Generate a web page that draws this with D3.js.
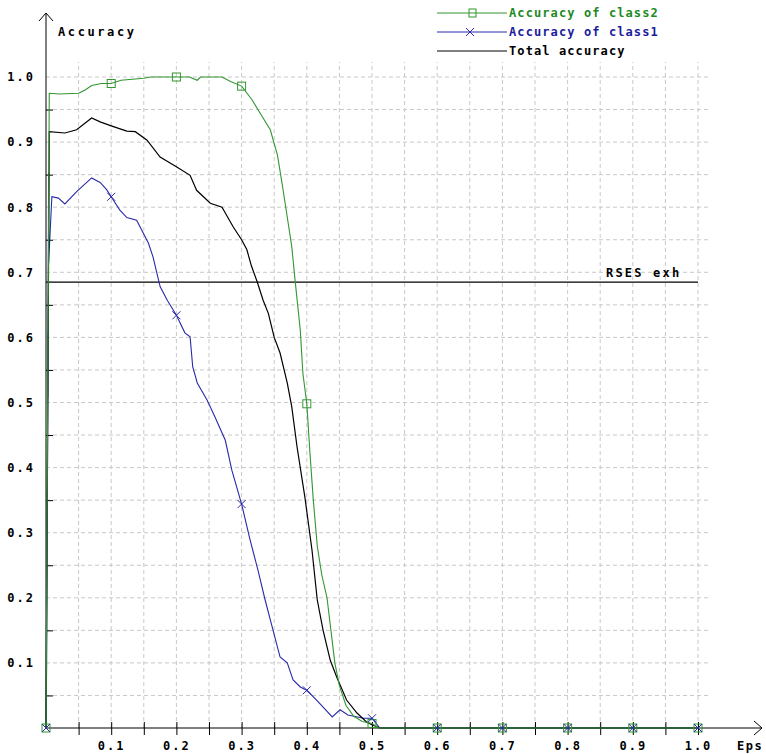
<!DOCTYPE html>
<html>
<head>
<meta charset="utf-8">
<script src="https://cdn.jsdelivr.net/npm/d3@7"></script>
<style>
  body { margin: 0; background: #fff; }
  text { font-family: "DejaVu Sans Mono", monospace; font-weight: bold; }
</style>
</head>
<body>
<div id="chart"></div>
<script>
// values
var class2Eps = [0, 0.005, 0.02, 0.05, 0.06, 0.07, 0.085, 0.1, 0.115, 0.15, 0.16, 0.2, 0.22, 0.232, 0.237, 0.27, 0.283, 0.3,
  0.316, 0.328, 0.344, 0.355, 0.362, 0.37, 0.377, 0.382, 0.39, 0.394, 0.4, 0.405, 0.41, 0.416, 0.423, 0.431, 0.437,
  0.443, 0.45, 0.46, 0.472, 0.485, 0.5, 0.51, 0.6, 0.7, 0.8, 0.9, 1.0];
var class2Acc = [0, 0.975, 0.974, 0.975, 0.98, 0.987, 0.99, 0.99, 0.995, 0.998, 1.0, 1.0, 1.0, 0.995, 1.0, 1.0, 0.993, 0.986,
  0.965, 0.945, 0.919, 0.88, 0.837, 0.785, 0.739, 0.688, 0.611, 0.545, 0.498, 0.42, 0.35, 0.28, 0.235, 0.2, 0.15,
  0.1, 0.065, 0.035, 0.018, 0.01, 0.007, 0, 0, 0, 0, 0, 0];

var class1Eps = [0, 0.001, 0.002, 0.002, 0.003, 0.003, 0.004, 0.004, 0.009, 0.019, 0.029, 0.047, 0.07, 0.083, 0.093, 0.1,
  0.113, 0.124, 0.139, 0.157, 0.164, 0.175, 0.186, 0.2, 0.213, 0.221, 0.225, 0.232, 0.247, 0.259, 0.275, 0.285, 0.3,
  0.313, 0.325, 0.336, 0.348, 0.359, 0.37, 0.379, 0.39, 0.4, 0.415, 0.439, 0.451, 0.463, 0.487, 0.5, 0.512,
  0.6, 0.7, 0.8, 0.9, 1.0];
var class1Acc = [0, 0.1, 0.366, 0.304, 0.608, 0.508, 0.853, 0.714, 0.816, 0.814, 0.805, 0.824, 0.845, 0.838, 0.827, 0.816,
  0.796, 0.784, 0.78, 0.745, 0.724, 0.678, 0.657, 0.634, 0.607, 0.601, 0.555, 0.53, 0.504, 0.478, 0.442, 0.396, 0.344,
  0.289, 0.243, 0.197, 0.151, 0.109, 0.1, 0.074, 0.063, 0.058, 0.043, 0.017, 0.028, 0.02, 0.015, 0.015, 0,
  0, 0, 0, 0, 0];

var totalEps = [0, 0.005, 0.029, 0.047, 0.07, 0.083, 0.1, 0.124, 0.137, 0.155, 0.175, 0.2, 0.221, 0.231, 0.252, 0.27, 0.287,
  0.3, 0.308, 0.315, 0.324, 0.333, 0.341, 0.35, 0.359, 0.37, 0.377, 0.385, 0.397, 0.408, 0.416, 0.425, 0.436, 0.446,
  0.461, 0.477, 0.492, 0.5, 0.512, 0.6, 0.7, 0.8, 0.9, 1.0];
var totalAcc = [0, 0.916, 0.914, 0.919, 0.937, 0.931, 0.925, 0.917, 0.916, 0.903, 0.877, 0.862, 0.849, 0.826, 0.806, 0.8, 0.77,
  0.75, 0.735, 0.71, 0.685, 0.657, 0.637, 0.6, 0.576, 0.53, 0.493, 0.432, 0.355, 0.273, 0.197, 0.15, 0.104, 0.078,
  0.043, 0.023, 0.009, 0.005, 0, 0, 0, 0, 0, 0];

var rsesExh = 0.685;
var tickValues = [0.05, 0.1, 0.15, 0.2, 0.25, 0.3, 0.35, 0.4, 0.45, 0.5, 0.55, 0.6, 0.65, 0.7, 0.75, 0.8, 0.85, 0.9, 0.95, 1.0];
var tickLabels = ['0.1', '0.2', '0.3', '0.4', '0.5', '0.6', '0.7', '0.8', '0.9', '1.0'];

var green = '#329632', blue = '#2a2aaa';

var svg = d3.select('#chart').append('svg').attr('width', 766).attr('height', 754);

var x = d3.scaleLinear().domain([0, 1]).range([46, 698]);
var y = d3.scaleLinear().domain([0, 1]).range([728, 77]);

function label(d) {
  var i = Math.round(d * 10) - 1;
  return Math.abs(d * 10 - Math.round(d * 10)) < 1e-6 ? tickLabels[i] : '';
}

// grid
var grid = svg.append('g').attr('stroke', '#c8c8c8').attr('stroke-dasharray', '4,3');
grid.selectAll('.gv').data(tickValues).enter().append('line')
  .attr('x1', function (d) { return x(d); }).attr('x2', function (d) { return x(d); })
  .attr('y1', y(0)).attr('y2', y(1.023));
grid.selectAll('.gh').data(tickValues).enter().append('line')
  .attr('y1', function (d) { return y(d); }).attr('y2', function (d) { return y(d); })
  .attr('x1', x(0)).attr('x2', x(1.018));

// axes
var xAxis = svg.append('g').attr('transform', 'translate(0,' + y(0) + ')')
  .call(d3.axisBottom(x).tickValues(tickValues).tickSize(7).tickPadding(6).tickFormat(label));
xAxis.select('.domain').remove();
xAxis.selectAll('.tick line').attr('y1', -6).attr('stroke', '#000');
xAxis.selectAll('text').attr('font-size', 12).attr('letter-spacing', 2).attr('fill', '#000');

var yAxis = svg.append('g').attr('transform', 'translate(' + x(0) + ',0)')
  .call(d3.axisLeft(y).tickValues(tickValues).tickSize(6).tickPadding(5).tickFormat(label));
yAxis.select('.domain').remove();
yAxis.selectAll('.tick line').attr('stroke', '#000')
  .attr('x2', function (d) { return label(d) ? 0 : 7; });
yAxis.selectAll('text').attr('font-size', 12).attr('letter-spacing', 2).attr('fill', '#000');

var axisLines = svg.append('g').attr('stroke', '#000').attr('fill', 'none');
axisLines.append('line').attr('x1', x(0)).attr('x2', 762).attr('y1', y(0)).attr('y2', y(0));
axisLines.append('path').attr('d', 'M754,721L762,728L754,735');
axisLines.append('line').attr('x1', x(0)).attr('x2', x(0)).attr('y1', y(0)).attr('y2', 13);
axisLines.append('path').attr('d', 'M39,21L46,13L53,21');

svg.append('text').attr('x', 58).attr('y', 36).attr('font-size', 12).attr('letter-spacing', 2.6).text('Accuracy');
svg.append('text').attr('x', 737).attr('y', 750).attr('font-size', 12).attr('letter-spacing', 1.5).text('Eps');

// RSES exh reference line
svg.append('line').attr('x1', x(0)).attr('x2', x(1)).attr('y1', y(rsesExh)).attr('y2', y(rsesExh))
  .attr('stroke', '#000').attr('stroke-width', 1.3);
svg.append('text').attr('x', 606).attr('y', y(rsesExh) - 5).attr('font-size', 12).attr('letter-spacing', 2.2).text('RSES exh');

// series
var line = d3.line().x(function (d) { return x(d[0]); }).y(function (d) { return y(d[1]); });
var class1 = d3.zip(class1Eps, class1Acc), class2 = d3.zip(class2Eps, class2Acc), total = d3.zip(totalEps, totalAcc);

svg.append('path').datum(class1).attr('d', line).attr('fill', 'none').attr('stroke', blue).attr('stroke-width', 1.1);
svg.append('path').datum(total).attr('d', line).attr('fill', 'none').attr('stroke', '#000').attr('stroke-width', 1.2);
svg.append('path').datum(class2).attr('d', line).attr('fill', 'none').attr('stroke', green).attr('stroke-width', 1.1);

function atTenth(d) { return Math.abs(d[0] * 10 - Math.round(d[0] * 10)) < 1e-6; }

svg.selectAll('.sq').data(class2.filter(atTenth)).enter().append('rect')
  .attr('x', function (d) { return x(d[0]) - 4; }).attr('y', function (d) { return y(d[1]) - 4; })
  .attr('width', 8).attr('height', 8).attr('fill', 'none').attr('stroke', green);

svg.selectAll('.cr').data(class1.filter(atTenth)).enter().append('path')
  .attr('d', function (d) {
    var cx = x(d[0]), cy = y(d[1]);
    return 'M' + (cx - 4) + ',' + (cy - 4) + 'L' + (cx + 4) + ',' + (cy + 4) +
      'M' + (cx + 4) + ',' + (cy - 4) + 'L' + (cx - 4) + ',' + (cy + 4);
  })
  .attr('stroke', blue).attr('fill', 'none');

// legend
var legendRows = [
  { name: 'Accuracy of class2', color: green, text: '#1e8a1e', mark: 'square' },
  { name: 'Accuracy of class1', color: blue, text: '#1c1c9c', mark: 'cross' },
  { name: 'Total accuracy', color: '#000', text: '#000', mark: 'none' }
];
var legend = svg.selectAll('.legend').data(legendRows).enter().append('g')
  .attr('transform', function (d, i) { return 'translate(437,' + (13 + i * 19) + ')'; });
legend.append('line').attr('x1', 0).attr('x2', 70).attr('stroke', function (d) { return d.color; });
legend.filter(function (d) { return d.mark === 'square'; }).append('rect')
  .attr('x', 32).attr('y', -4).attr('width', 7).attr('height', 8).attr('fill', 'none').attr('stroke', green);
legend.filter(function (d) { return d.mark === 'cross'; }).append('path')
  .attr('d', 'M29,-4L37,4M37,-4L29,4').attr('stroke', blue);
legend.append('text').attr('x', 72).attr('y', 4).attr('font-size', 12).attr('letter-spacing', 1.1)
  .attr('fill', function (d) { return d.text; }).text(function (d) { return d.name; });
</script>
</body>
</html>
